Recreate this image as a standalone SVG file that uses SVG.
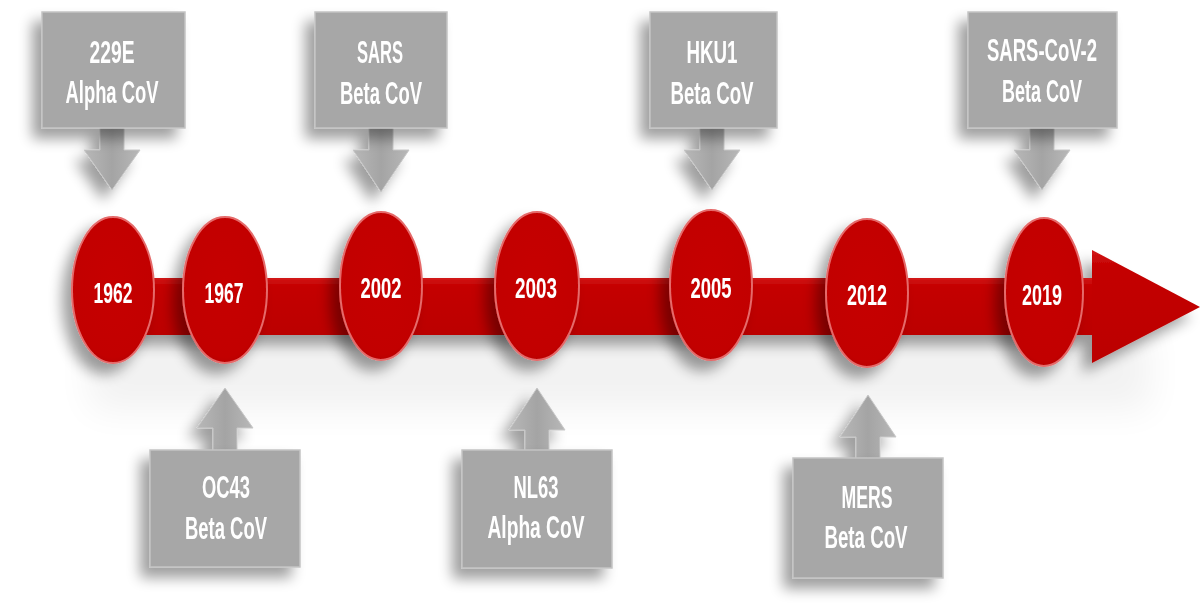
<svg xmlns="http://www.w3.org/2000/svg" width="1200" height="605" viewBox="0 0 1200 605">
  <defs>
    <style>
      .box { fill: #a7a7a7; stroke: #c4c4c4; stroke-width: 1.5; }
      .pointer { fill: url(#pointerGrad); stroke: #c8c8c8; stroke-width: 1; }
      .lbl { font-family: "Liberation Sans", Arial, sans-serif; font-size: 31px; font-weight: bold; fill: #ffffff; text-anchor: middle; }
      .year { font-family: "Liberation Sans", Arial, sans-serif; font-size: 29px; font-weight: bold; fill: #ffffff; text-anchor: middle; }
      .dot { fill: url(#dotGrad); stroke: #e56a6a; stroke-width: 2; }
      .band { fill: url(#bandGrad); }
    </style>
    <linearGradient id="pointerGrad" x1="0" y1="0" x2="1" y2="0">
      <stop offset="0" stop-color="#b8b8b8"/>
      <stop offset="0.5" stop-color="#a4a4a4"/>
      <stop offset="1" stop-color="#b8b8b8"/>
    </linearGradient>
    <radialGradient id="dotGrad" cx="0.5" cy="0.45" r="0.6">
      <stop offset="0" stop-color="#c60606"/>
      <stop offset="0.85" stop-color="#c20000"/>
      <stop offset="1" stop-color="#b00000"/>
    </radialGradient>
    <linearGradient id="bandGrad" x1="0" y1="0" x2="0" y2="1">
      <stop offset="0" stop-color="#d21818"/>
      <stop offset="0.15" stop-color="#c40000"/>
      <stop offset="1" stop-color="#bb0000"/>
    </linearGradient>
    <filter id="shadow" x="-40%" y="-30%" width="180%" height="170%">
      <feGaussianBlur in="SourceAlpha" stdDeviation="7"/>
      <feOffset dx="-9" dy="10" result="off"/>
      <feComponentTransfer><feFuncA type="linear" slope="0.38"/></feComponentTransfer>
      <feMerge><feMergeNode/><feMergeNode in="SourceGraphic"/></feMerge>
    </filter>
    <filter id="haze" x="-10%" y="-50%" width="120%" height="200%">
      <feGaussianBlur stdDeviation="18"/>
    </filter>
  </defs>

  <rect width="1200" height="605" fill="#ffffff"/>

  <!-- soft floor shadow under the timeline -->
  <rect x="90" y="330" width="1060" height="80" fill="#000" opacity="0.05" filter="url(#haze)"/>

  <!-- timeline band with arrowhead -->
  <g id="timeline" filter="url(#shadow)">
    <rect class="band" x="120" y="278" width="980" height="57"/>
    <polygon class="band" points="1092,250 1200,307 1092,363"/>
  </g>

  <!-- callout pointers -->
  <g id="connectors" filter="url(#shadow)">
    <path class="pointer" d="M100,127 L124,127 L124,150 L140,150 L112,190 L84,150 L100,150 Z"/>
    <path class="pointer" d="M369,127 L393,127 L393,150 L409,150 L381,192 L353,150 L369,150 Z"/>
    <path class="pointer" d="M700,127 L724,127 L724,150 L740,150 L712,190 L684,150 L700,150 Z"/>
    <path class="pointer" d="M1030,127 L1054,127 L1054,150 L1070,150 L1042,190 L1014,150 L1030,150 Z"/>
    <path class="pointer" d="M213,451 L237,451 L237,428 L253,428 L225,388 L197,428 L213,428 Z"/>
    <path class="pointer" d="M525,451 L549,451 L549,430 L565,430 L537,388 L509,430 L525,430 Z"/>
    <path class="pointer" d="M856,459 L880,459 L880,437 L896,437 L868,395 L840,437 L856,437 Z"/>
  </g>

  <!-- year markers -->
  <g id="y1962" filter="url(#shadow)">
    <ellipse class="dot" cx="113" cy="290" rx="41" ry="73"/>
    <text class="year" x="113" y="303" textLength="39" lengthAdjust="spacingAndGlyphs">1962</text>
  </g>
  <g id="y1967" filter="url(#shadow)">
    <ellipse class="dot" cx="225" cy="290" rx="42" ry="73"/>
    <text class="year" x="224" y="303" textLength="39" lengthAdjust="spacingAndGlyphs">1967</text>
  </g>
  <g id="y2002" filter="url(#shadow)">
    <ellipse class="dot" cx="381" cy="286" rx="41" ry="74"/>
    <text class="year" x="381" y="298" textLength="41" lengthAdjust="spacingAndGlyphs">2002</text>
  </g>
  <g id="y2003" filter="url(#shadow)">
    <ellipse class="dot" cx="537" cy="286" rx="42" ry="74"/>
    <text class="year" x="536" y="298" textLength="42" lengthAdjust="spacingAndGlyphs">2003</text>
  </g>
  <g id="y2005" filter="url(#shadow)">
    <ellipse class="dot" cx="711" cy="285" rx="41" ry="75"/>
    <text class="year" x="711" y="298" textLength="41" lengthAdjust="spacingAndGlyphs">2005</text>
  </g>
  <g id="y2012" filter="url(#shadow)">
    <ellipse class="dot" cx="867" cy="293" rx="41" ry="74"/>
    <text class="year" x="867" y="305" textLength="40" lengthAdjust="spacingAndGlyphs">2012</text>
  </g>
  <g id="y2019" filter="url(#shadow)">
    <ellipse class="dot" cx="1044" cy="292" rx="39" ry="74"/>
    <text class="year" x="1042" y="305" textLength="40" lengthAdjust="spacingAndGlyphs">2019</text>
  </g>

  <!-- virus labels -->
  <g id="v229E" filter="url(#shadow)">
    <rect class="box" x="42" y="12" width="143" height="116"/>
    <text class="lbl" x="112" y="63" textLength="45" lengthAdjust="spacingAndGlyphs">229E</text>
    <text class="lbl" x="112" y="103" textLength="93" lengthAdjust="spacingAndGlyphs">Alpha CoV</text>
  </g>
  <g id="vSARS" filter="url(#shadow)">
    <rect class="box" x="315" y="12" width="132" height="116"/>
    <text class="lbl" x="380" y="63" textLength="46" lengthAdjust="spacingAndGlyphs">SARS</text>
    <text class="lbl" x="381" y="104" textLength="82" lengthAdjust="spacingAndGlyphs">Beta CoV</text>
  </g>
  <g id="vHKU1" filter="url(#shadow)">
    <rect class="box" x="650" y="12" width="127" height="116"/>
    <text class="lbl" x="712" y="63" textLength="51" lengthAdjust="spacingAndGlyphs">HKU1</text>
    <text class="lbl" x="712" y="104" textLength="83" lengthAdjust="spacingAndGlyphs">Beta CoV</text>
  </g>
  <g id="vSARSCoV2" filter="url(#shadow)">
    <rect class="box" x="968" y="12" width="149" height="116"/>
    <text class="lbl" x="1042" y="61" textLength="110" lengthAdjust="spacingAndGlyphs">SARS-CoV-2</text>
    <text class="lbl" x="1042" y="102" textLength="80" lengthAdjust="spacingAndGlyphs">Beta CoV</text>
  </g>
  <g id="vOC43" filter="url(#shadow)">
    <rect class="box" x="150" y="450" width="150" height="117"/>
    <text class="lbl" x="226" y="498" textLength="48" lengthAdjust="spacingAndGlyphs">OC43</text>
    <text class="lbl" x="226" y="539" textLength="82" lengthAdjust="spacingAndGlyphs">Beta CoV</text>
  </g>
  <g id="vNL63" filter="url(#shadow)">
    <rect class="box" x="462" y="450" width="150" height="118"/>
    <text class="lbl" x="536" y="498" textLength="45" lengthAdjust="spacingAndGlyphs">NL63</text>
    <text class="lbl" x="536" y="538" textLength="97" lengthAdjust="spacingAndGlyphs">Alpha CoV</text>
  </g>
  <g id="vMERS" filter="url(#shadow)">
    <rect class="box" x="793" y="458" width="150" height="120"/>
    <text class="lbl" x="867" y="508" textLength="51" lengthAdjust="spacingAndGlyphs">MERS</text>
    <text class="lbl" x="866" y="548" textLength="83" lengthAdjust="spacingAndGlyphs">Beta CoV</text>
  </g>
</svg>
